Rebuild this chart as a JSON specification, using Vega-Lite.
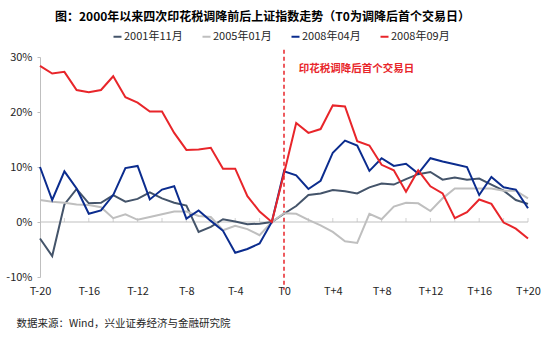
{
  "$schema": "https://vega.github.io/schema/vega-lite/v6.json",
  "autosize": {"type": "none"},
  "width": 488,
  "height": 220,
  "padding": {"left": 40, "top": 57, "right": 22, "bottom": 74},
  "background": "white",
  "config": {
    "font": "Noto Sans CJK SC",
    "view": {"stroke": null}
  },
  "title": {
    "text": "图：2000年以来四次印花税调降前后上证指数走势（T0为调降后首个交易日）",
    "anchor": "start",
    "frame": "group",
    "dx": 15,
    "offset": 7,
    "fontSize": 12,
    "fontWeight": "bold",
    "color": "#000000",
    "font": "Noto Sans CJK SC"
  },
  "datasets": {
    "series": [
      {"s":"2001年11月","t":-20,"v":-3.0},{"s":"2001年11月","t":-19,"v":-6.2},{"s":"2001年11月","t":-18,"v":3.2},{"s":"2001年11月","t":-17,"v":6.0},{"s":"2001年11月","t":-16,"v":3.4},{"s":"2001年11月","t":-15,"v":3.5},{"s":"2001年11月","t":-14,"v":4.9},{"s":"2001年11月","t":-13,"v":3.7},{"s":"2001年11月","t":-12,"v":4.2},{"s":"2001年11月","t":-11,"v":5.4},{"s":"2001年11月","t":-10,"v":4.3},{"s":"2001年11月","t":-9,"v":3.5},{"s":"2001年11月","t":-8,"v":3.0},{"s":"2001年11月","t":-7,"v":-1.8},{"s":"2001年11月","t":-6,"v":-0.9},{"s":"2001年11月","t":-5,"v":0.5},{"s":"2001年11月","t":-4,"v":0.1},{"s":"2001年11月","t":-3,"v":-0.4},{"s":"2001年11月","t":-2,"v":-0.3},{"s":"2001年11月","t":-1,"v":0},
      {"s":"2001年11月","t":0,"v":1.5},{"s":"2001年11月","t":1,"v":2.9},{"s":"2001年11月","t":2,"v":4.9},{"s":"2001年11月","t":3,"v":5.2},{"s":"2001年11月","t":4,"v":5.8},{"s":"2001年11月","t":5,"v":5.6},{"s":"2001年11月","t":6,"v":5.2},{"s":"2001年11月","t":7,"v":6.3},{"s":"2001年11月","t":8,"v":7.0},{"s":"2001年11月","t":9,"v":6.8},{"s":"2001年11月","t":10,"v":7.8},{"s":"2001年11月","t":11,"v":8.7},{"s":"2001年11月","t":12,"v":9.1},{"s":"2001年11月","t":13,"v":7.7},{"s":"2001年11月","t":14,"v":8.1},{"s":"2001年11月","t":15,"v":7.7},{"s":"2001年11月","t":16,"v":7.9},{"s":"2001年11月","t":17,"v":6.8},{"s":"2001年11月","t":18,"v":5.7},{"s":"2001年11月","t":19,"v":4.0},{"s":"2001年11月","t":20,"v":3.3},
      {"s":"2005年01月","t":-20,"v":4.0},{"s":"2005年01月","t":-19,"v":3.7},{"s":"2005年01月","t":-18,"v":3.5},{"s":"2005年01月","t":-17,"v":3.2},{"s":"2005年01月","t":-16,"v":3.1},{"s":"2005年01月","t":-15,"v":2.7},{"s":"2005年01月","t":-14,"v":0.7},{"s":"2005年01月","t":-13,"v":1.4},{"s":"2005年01月","t":-12,"v":0.4},{"s":"2005年01月","t":-11,"v":0.9},{"s":"2005年01月","t":-10,"v":1.4},{"s":"2005年01月","t":-9,"v":1.9},{"s":"2005年01月","t":-8,"v":1.9},{"s":"2005年01月","t":-7,"v":1.1},{"s":"2005年01月","t":-6,"v":0.9},{"s":"2005年01月","t":-5,"v":-1.5},{"s":"2005年01月","t":-4,"v":-0.7},{"s":"2005年01月","t":-3,"v":-1.3},{"s":"2005年01月","t":-2,"v":-2.4},{"s":"2005年01月","t":-1,"v":0},
      {"s":"2005年01月","t":0,"v":1.6},{"s":"2005年01月","t":1,"v":1.5},{"s":"2005年01月","t":2,"v":0.4},{"s":"2005年01月","t":3,"v":-0.6},{"s":"2005年01月","t":4,"v":-1.8},{"s":"2005年01月","t":5,"v":-3.5},{"s":"2005年01月","t":6,"v":-3.8},{"s":"2005年01月","t":7,"v":1.5},{"s":"2005年01月","t":8,"v":0.5},{"s":"2005年01月","t":9,"v":2.8},{"s":"2005年01月","t":10,"v":3.5},{"s":"2005年01月","t":11,"v":3.4},{"s":"2005年01月","t":12,"v":2.0},{"s":"2005年01月","t":13,"v":4.3},{"s":"2005年01月","t":14,"v":6.1},{"s":"2005年01月","t":15,"v":6.1},{"s":"2005年01月","t":16,"v":6.1},{"s":"2005年01月","t":17,"v":6.1},{"s":"2005年01月","t":18,"v":5.7},{"s":"2005年01月","t":19,"v":5.7},{"s":"2005年01月","t":20,"v":4.3},
      {"s":"2008年04月","t":-20,"v":10.0},{"s":"2008年04月","t":-19,"v":4.0},{"s":"2008年04月","t":-18,"v":9.2},{"s":"2008年04月","t":-17,"v":6.1},{"s":"2008年04月","t":-16,"v":1.5},{"s":"2008年04月","t":-15,"v":2.1},{"s":"2008年04月","t":-14,"v":4.9},{"s":"2008年04月","t":-13,"v":9.8},{"s":"2008年04月","t":-12,"v":10.2},{"s":"2008年04月","t":-11,"v":4.1},{"s":"2008年04月","t":-10,"v":5.9},{"s":"2008年04月","t":-9,"v":6.5},{"s":"2008年04月","t":-8,"v":0.6},{"s":"2008年04月","t":-7,"v":2.1},{"s":"2008年04月","t":-6,"v":0.2},{"s":"2008年04月","t":-5,"v":-1.6},{"s":"2008年04月","t":-4,"v":-5.6},{"s":"2008年04月","t":-3,"v":-4.9},{"s":"2008年04月","t":-2,"v":-3.9},{"s":"2008年04月","t":-1,"v":0},
      {"s":"2008年04月","t":0,"v":9.2},{"s":"2008年04月","t":1,"v":8.5},{"s":"2008年04月","t":2,"v":6.0},{"s":"2008年04月","t":3,"v":7.5},{"s":"2008年04月","t":4,"v":12.6},{"s":"2008年04月","t":5,"v":14.8},{"s":"2008年04月","t":6,"v":13.9},{"s":"2008年04月","t":7,"v":9.3},{"s":"2008年04月","t":8,"v":11.6},{"s":"2008年04月","t":9,"v":10.2},{"s":"2008年04月","t":10,"v":10.6},{"s":"2008年04月","t":11,"v":8.8},{"s":"2008年04月","t":12,"v":11.6},{"s":"2008年04月","t":13,"v":11.0},{"s":"2008年04月","t":14,"v":10.5},{"s":"2008年04月","t":15,"v":10.0},{"s":"2008年04月","t":16,"v":4.9},{"s":"2008年04月","t":17,"v":8.2},{"s":"2008年04月","t":18,"v":6.3},{"s":"2008年04月","t":19,"v":5.9},{"s":"2008年04月","t":20,"v":2.5},
      {"s":"2008年09月","t":-20,"v":28.4},{"s":"2008年09月","t":-19,"v":27.0},{"s":"2008年09月","t":-18,"v":27.3},{"s":"2008年09月","t":-17,"v":24.0},{"s":"2008年09月","t":-16,"v":23.6},{"s":"2008年09月","t":-15,"v":24.0},{"s":"2008年09月","t":-14,"v":26.5},{"s":"2008年09月","t":-13,"v":22.7},{"s":"2008年09月","t":-12,"v":21.7},{"s":"2008年09月","t":-11,"v":20.1},{"s":"2008年09月","t":-10,"v":20.1},{"s":"2008年09月","t":-9,"v":16.2},{"s":"2008年09月","t":-8,"v":13.1},{"s":"2008年09月","t":-7,"v":13.2},{"s":"2008年09月","t":-6,"v":13.5},{"s":"2008年09月","t":-5,"v":9.7},{"s":"2008年09月","t":-4,"v":9.7},{"s":"2008年09月","t":-3,"v":4.7},{"s":"2008年09月","t":-2,"v":1.9},{"s":"2008年09月","t":-1,"v":0},
      {"s":"2008年09月","t":0,"v":8.8},{"s":"2008年09月","t":1,"v":18.0},{"s":"2008年09月","t":2,"v":16.2},{"s":"2008年09月","t":3,"v":16.9},{"s":"2008年09月","t":4,"v":21.2},{"s":"2008年09月","t":5,"v":21.0},{"s":"2008年09月","t":6,"v":14.7},{"s":"2008年09月","t":7,"v":13.9},{"s":"2008年09月","t":8,"v":10.4},{"s":"2008年09月","t":9,"v":9.4},{"s":"2008年09月","t":10,"v":5.5},{"s":"2008年09月","t":11,"v":9.4},{"s":"2008年09月","t":12,"v":6.5},{"s":"2008年09月","t":13,"v":5.2},{"s":"2008年09月","t":14,"v":0.7},{"s":"2008年09月","t":15,"v":1.8},{"s":"2008年09月","t":16,"v":4.1},{"s":"2008年09月","t":17,"v":3.3},{"s":"2008年09月","t":18,"v":-0.1},{"s":"2008年09月","t":19,"v":-1.2},{"s":"2008年09月","t":20,"v":-3.0}
    ],
    "ticks": [{"t": -18},{"t": -16},{"t": -14},{"t": -12},{"t": -10},{"t": -8},{"t": -6},{"t": -4},{"t": -2},{"t": 0},{"t": 2},{"t": 4},{"t": 6},{"t": 8},{"t": 10},{"t": 12},{"t": 14},{"t": 16},{"t": 18},{"t": 20}],
    "vline": [{"t": 0, "y1": 31.3, "y2": -12.3}],
    "note": [{"t": 1.2, "v": 27.9, "label": "印花税调降后首个交易日"}],
    "zero": [{"a": -20, "b": 20, "v": 0}]
  },
  "layer": [
    {
      "data": {"name": "zero"},
      "mark": {"type": "rule", "color": "#BFBFBF", "strokeWidth": 1},
      "encoding": {
        "x": {"field": "a", "type": "quantitative", "scale": {"domain": [-20, 20], "nice": false, "zero": false},
          "axis": {
            "values": [-20,-16,-12,-8,-4,0,4,8,12,16,20],
            "labelExpr": "datum.value == 0 ? 'T0' : (datum.value > 0 ? 'T+' + datum.value : 'T' + datum.value)",
            "domain": false, "ticks": false, "grid": false, "labelFlush": false, "labelOverlap": false,
            "labelFontSize": 11, "labelColor": "#262626", "labelPadding": 8, "labelFont": "Noto Sans CJK SC",
            "title": "数据来源：Wind，兴业证券经济与金融研究院",
            "titleX": -24, "titleY": 46, "titleAlign": "left", "titleAnchor": null,
            "titleBaseline": "middle", "titleFontSize": 10.5, "titleFontWeight": "normal", "titleColor": "#262626",
            "titleFont": "Noto Sans CJK SC"
          }},
        "x2": {"field": "b"},
        "y": {"field": "v", "type": "quantitative", "scale": {"domain": [-10, 30], "nice": false},
          "axis": {
            "values": [-10,-5,0,5,10,15,20,25,30],
            "labelExpr": "datum.value + '%'",
            "grid": false, "domain": true, "domainColor": "#BFBFBF", "ticks": true, "tickSize": 3, "tickColor": "#BFBFBF",
            "labelFontSize": 11, "labelColor": "#262626", "labelPadding": 5, "labelFont": "Noto Sans CJK SC",
            "labelFlush": false, "title": null
          }}
      }
    },
    {
      "data": {"name": "ticks"},
      "mark": {"type": "tick", "orient": "vertical", "color": "#BFBFBF", "size": 4, "yOffset": -2, "thickness": 1},
      "encoding": {
        "x": {"field": "t", "type": "quantitative"},
        "y": {"datum": 0, "type": "quantitative"}
      }
    },
    {
      "data": {"name": "vline"},
      "mark": {"type": "rule", "color": "#E8252A", "strokeWidth": 1.5, "strokeDash": [4, 3]},
      "encoding": {
        "x": {"field": "t", "type": "quantitative"},
        "y": {"field": "y1", "type": "quantitative"},
        "y2": {"field": "y2"}
      }
    },
    {
      "data": {"name": "note"},
      "mark": {"type": "text", "color": "#E8252A", "fontSize": 10.5, "fontWeight": "bold", "align": "left", "baseline": "middle", "font": "Noto Sans CJK SC"},
      "encoding": {
        "x": {"field": "t", "type": "quantitative"},
        "y": {"field": "v", "type": "quantitative"},
        "text": {"field": "label"}
      }
    },
    {
      "data": {"name": "series"},
      "mark": {"type": "line", "strokeWidth": 2},
      "encoding": {
        "x": {"field": "t", "type": "quantitative"},
        "y": {"field": "v", "type": "quantitative"},
        "color": {
          "field": "s", "type": "nominal",
          "scale": {"domain": ["2001年11月", "2005年01月", "2008年04月", "2008年09月"], "range": ["#44546A", "#BFBFBF", "#0B2C8E", "#E8252A"]},
          "legend": {
            "orient": "none", "direction": "horizontal", "legendX": 72, "legendY": -26,
            "title": null, "symbolType": "stroke", "symbolSize": 64, "symbolStrokeWidth": 2,
            "labelFontSize": 11, "labelColor": "#262626", "labelOffset": 1, "columnPadding": 15,
            "labelFont": "Noto Sans CJK SC"
          }
        }
      }
    }
  ]
}
